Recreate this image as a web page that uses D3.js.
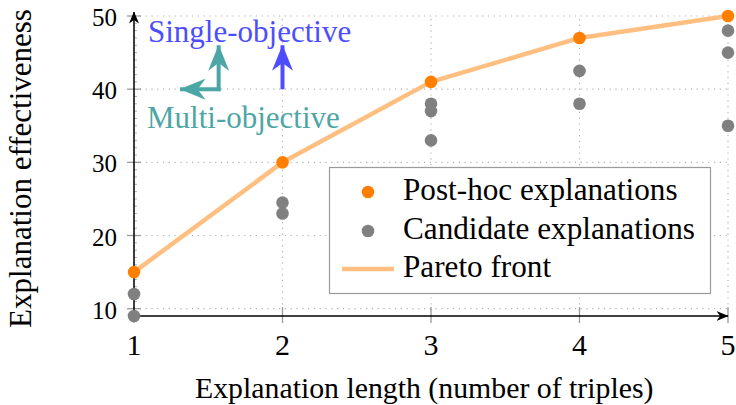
<!DOCTYPE html>
<html>
<head>
<meta charset="utf-8">
<script src="https://cdn.jsdelivr.net/npm/d3@7"></script>
<style>
  html, body { margin: 0; padding: 0; background: #fff; }
  svg { display: block; }
</style>
</head>
<body>
<svg id="chart" width="736" height="405"></svg>
<script>
// ---- data ----
const xTicks = [1, 2, 3, 4, 5];
const yTicks = [10, 20, 30, 40, 50];
const postHocX = [1, 2, 3, 4, 5];
const postHocY = [15, 30, 41, 47, 50];
const candidateX = [1, 1, 2, 2, 3, 3, 3, 4, 4, 5, 5, 5];
const candidateY = [12, 9, 24.5, 23, 38, 37, 33, 42.5, 38, 48, 45, 35];
const legendLabels = ["Post-hoc explanations", "Candidate explanations", "Pareto front"];
const xTitle = "Explanation length (number of triples)";
const yTitle = "Explanation effectiveness";
const singleLabel = "Single-objective";
const multiLabel = "Multi-objective";
// annotation arrows in data coordinates
const singleArrow = [[2, 40], [2, 46]];
const multiArrowUp = [[1.57, 40], [1.57, 46]];
const multiArrowLeft = [[1.57, 40], [1.31, 40]];

const svg = d3.select("#chart");
const x = d3.scaleLinear().domain([1, 5]).range([134, 728]);
const y = d3.scaleLinear().domain([9, 50]).range([316, 16]);

const orange = "#ff8000", pareto = "#ffbf80", gray = "#808080";
const blue = "#4d4dff", teal = "#4da6a6";

function txt(sel) { return sel.style("font-family", "'Liberation Serif'"); }

// grid
const grid = svg.append("g");
grid.selectAll("line.vg").data(xTicks).join("line")
  .attr("x1", d => x(d)).attr("x2", d => x(d))
  .attr("y1", y(9)).attr("y2", y(50))
  .attr("stroke", "#b3b3b3").attr("stroke-width", 1.2)
  .attr("stroke-dasharray", "1.2,4.6");
grid.selectAll("line.hg").data(yTicks).join("line")
  .attr("x1", x(1)).attr("x2", x(5))
  .attr("y1", d => y(d)).attr("y2", d => y(d))
  .attr("stroke", "#b3b3b3").attr("stroke-width", 1.2)
  .attr("stroke-dasharray", "1.2,4.6");

// minor ticks on y
const minor = d3.range(10, 50).filter(v => v % 10 !== 0);
svg.append("g").selectAll("line").data(minor).join("line")
  .attr("x1", x(1)).attr("x2", x(1) + 3)
  .attr("y1", d => y(d)).attr("y2", d => y(d))
  .attr("stroke", "#999").attr("stroke-width", 0.8);

// major ticks
svg.append("g").selectAll("line").data(yTicks).join("line")
  .attr("x1", x(1) - 7).attr("x2", x(1) + 7)
  .attr("y1", d => y(d)).attr("y2", d => y(d))
  .attr("stroke", "#999").attr("stroke-width", 1.3);
svg.append("g").selectAll("line").data(xTicks).join("line")
  .attr("x1", d => x(d)).attr("x2", d => x(d))
  .attr("y1", y(9) - 9).attr("y2", y(9) + 7)
  .attr("stroke", "#999").attr("stroke-width", 1.3);

// axis lines with arrows
const defs = svg.append("defs");
function marker(id, color, len, wid, notch) {
  defs.append("marker").attr("id", id)
    .attr("viewBox", `0 ${-wid/2} ${len} ${wid}`)
    .attr("refX", len - 0.5).attr("refY", 0)
    .attr("markerWidth", len).attr("markerHeight", wid)
    .attr("markerUnits", "userSpaceOnUse")
    .attr("orient", "auto")
    .append("path")
    .attr("d", `M${len},0 L0,${-wid/2} L${len*notch},0 L0,${wid/2} Z`)
    .attr("fill", color);
}
marker("axArrow", "#000", 12, 10, 0.3);
marker("blueArrow", blue, 26, 21, 0.3);
marker("tealArrow", teal, 26, 21, 0.3);

svg.append("line")
  .attr("x1", x(1)).attr("x2", x(5))
  .attr("y1", y(9)).attr("y2", y(9))
  .attr("stroke", "#000").attr("stroke-width", 1.5)
  .attr("marker-end", "url(#axArrow)");
svg.append("line")
  .attr("x1", x(1)).attr("x2", x(1))
  .attr("y1", y(9)).attr("y2", y(50) - 4)
  .attr("stroke", "#000").attr("stroke-width", 1.5)
  .attr("marker-end", "url(#axArrow)");

// tick labels
txt(svg.append("g").selectAll("text").data(yTicks).join("text"))
  .attr("x", 117).attr("y", d => y(d))
  .attr("dy", "0.4em").attr("text-anchor", "end")
  .attr("font-size", 25).text(d => d);
txt(svg.append("g").selectAll("text").data(xTicks).join("text"))
  .attr("x", d => x(d)).attr("y", 355)
  .attr("text-anchor", "middle")
  .attr("font-size", 30).text(d => d);

// axis titles
txt(svg.append("text"))
  .attr("x", 195).attr("y", 398)
  .attr("font-size", 29.8).text(xTitle);
txt(svg.append("text"))
  .attr("transform", `translate(31,168.5) rotate(-90)`)
  .attr("text-anchor", "middle").attr("font-size", 31).text(yTitle);

// pareto front line
const line = d3.line().x(d => x(d[0])).y(d => y(d[1]));
svg.append("path")
  .datum(postHocX.map((v, i) => [v, postHocY[i]]))
  .attr("d", line).attr("fill", "none")
  .attr("stroke", pareto).attr("stroke-width", 4.5)
  .attr("stroke-linejoin", "round");

// candidate dots
svg.append("g").selectAll("circle")
  .data(candidateX.map((v, i) => [v, candidateY[i]])).join("circle")
  .attr("cx", d => x(d[0])).attr("cy", d => y(d[1]))
  .attr("r", 6.3).attr("fill", gray);
// post-hoc dots
svg.append("g").selectAll("circle")
  .data(postHocX.map((v, i) => [v, postHocY[i]])).join("circle")
  .attr("cx", d => x(d[0])).attr("cy", d => y(d[1]))
  .attr("r", 6.3).attr("fill", orange);

// annotations
svg.append("line")
  .attr("x1", x(singleArrow[0][0])).attr("y1", y(singleArrow[0][1]))
  .attr("x2", x(singleArrow[1][0])).attr("y2", y(singleArrow[1][1]))
  .attr("stroke", blue).attr("stroke-width", 4)
  .attr("marker-end", "url(#blueArrow)");
svg.append("line")
  .attr("x1", x(multiArrowUp[0][0])).attr("y1", y(multiArrowUp[0][1]) + 2)
  .attr("x2", x(multiArrowUp[1][0])).attr("y2", y(multiArrowUp[1][1]))
  .attr("stroke", teal).attr("stroke-width", 4)
  .attr("marker-end", "url(#tealArrow)");
svg.append("line")
  .attr("x1", x(multiArrowLeft[0][0]) + 2).attr("y1", y(multiArrowLeft[0][1]))
  .attr("x2", x(multiArrowLeft[1][0])).attr("y2", y(multiArrowLeft[1][1]))
  .attr("stroke", teal).attr("stroke-width", 4)
  .attr("marker-end", "url(#tealArrow)");

txt(svg.append("text")).attr("x", 148).attr("y", 42)
  .attr("font-size", 31).attr("fill", blue).text(singleLabel);
txt(svg.append("text")).attr("x", 147).attr("y", 128)
  .attr("font-size", 31).attr("fill", teal).text(multiLabel);

// legend
const lg = svg.append("g");
lg.append("rect").attr("x", 329.5).attr("y", 167.5)
  .attr("width", 381).attr("height", 126)
  .attr("fill", "#fff").attr("stroke", "#9a9a9a").attr("stroke-width", 1.2);
const rowY = [192, 231, 269];
lg.append("circle").attr("cx", 368).attr("cy", rowY[0]).attr("r", 6.3).attr("fill", orange);
lg.append("circle").attr("cx", 368).attr("cy", rowY[1]).attr("r", 6.3).attr("fill", gray);
lg.append("line").attr("x1", 342).attr("x2", 394).attr("y1", rowY[2]).attr("y2", rowY[2])
  .attr("stroke", pareto).attr("stroke-width", 4.5);
txt(lg.selectAll("text.lt").data(legendLabels).join("text"))
  .attr("x", 403).attr("y", (d, i) => rowY[i] + 7.5)
  .attr("font-size", 31.2).text(d => d);
</script>
</body>
</html>
